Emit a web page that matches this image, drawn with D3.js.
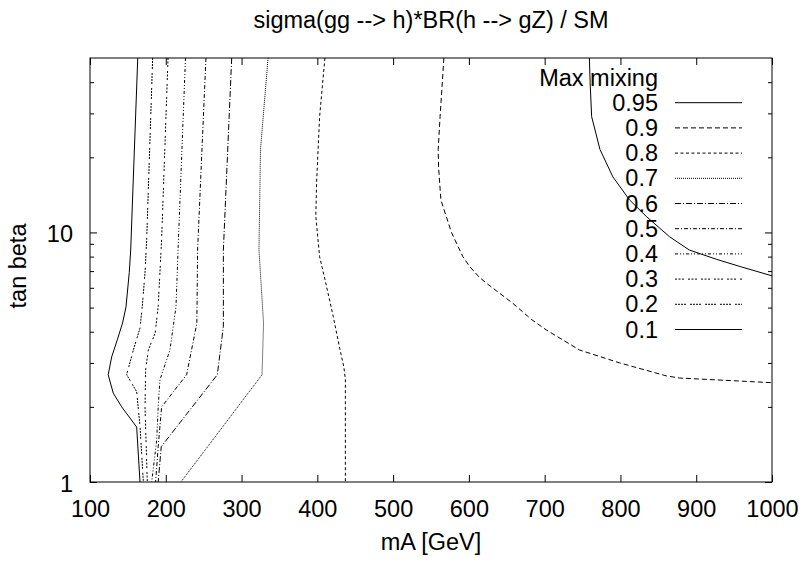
<!DOCTYPE html>
<html>
<head>
<meta charset="utf-8">
<script src="https://cdn.jsdelivr.net/npm/d3@7"></script>
<style>
  html, body { margin: 0; padding: 0; background: #fff; }
  svg { display: block; }
  text { font-family: "Liberation Sans", Arial, sans-serif; fill: #000; }
</style>
</head>
<body>
<svg id="chart" width="804" height="564"></svg>
<script>
// ---------- data ----------
const titleText = "sigma(gg --> h)*BR(h --> gZ) / SM";
const xLabelText = "mA [GeV]";
const yLabelText = "tan beta";
const legendTitle = "Max mixing";

const xTicks = [100, 200, 300, 400, 500, 600, 700, 800, 900, 1000];
const yMajorTicks = [1, 10];
const yMinorTicks = [2, 3, 4, 5, 6, 7, 8, 9, 20, 30, 40];

const levels = ["0.95", "0.9", "0.8", "0.7", "0.6", "0.5", "0.4", "0.3", "0.2", "0.1"];
const dashes = ["", "5,3", "3,2.5", "1,1", "6,2,1,2", "4,2,1,2", "3,2,1,2,1,2", "2,1.5,2,1.5,2,4", "2,1,2,1,2,1,2,4", ""];

const mA_095 = [759, 760, 762, 773, 790, 812, 834, 865, 891, 927, 958, 1000];
const tb_095 = [50, 39.8, 29.1, 21.5, 16.7, 13.5, 11.6, 9.6, 8.5, 7.8, 7.3, 6.7];

const mA_090 = [567, 562, 559.5, 560, 563, 577, 592, 601, 614, 628, 658, 683, 702, 746, 799, 861, 878, 1000];
const tb_090 = [50, 29.1, 21.5, 18.3, 13.5, 10, 8, 7.3, 6.6, 6.1, 5.2, 4.47, 4.07, 3.38, 3.0, 2.66, 2.61, 2.5];

const mA_080 = [410, 403, 399, 398, 403, 411, 421, 430, 435, 437, 437];
const tb_080 = [50, 29.1, 15.8, 11.6, 8, 6.3, 4.6, 3.38, 2.89, 2.57, 1];

const mA_070 = [335, 325, 323, 329, 327, 220];
const tb_070 = [50, 21.5, 8.5, 4.33, 2.69, 1];

const mA_060 = [287, 276, 276, 268, 194, 190];
const tb_060 = [50, 8.5, 4.2, 2.69, 1.385, 1];

const mA_050 = [253, 242, 241, 227.5, 194.5, 190, 186.6];
const tb_050 = [50, 8.5, 4.33, 2.69, 2.0, 1.385, 1];

const mA_040 = [226, 216.5, 213.5, 205.5, 192.3, 190, 188, 181.4];
const tb_040 = [50, 9, 5.05, 3.38, 2.57, 2.0, 1.47, 1];

const mA_030 = [203, 194.5, 190, 186, 177, 173.4, 172.6, 175.6];
const tb_030 = [50, 9.35, 5.05, 3.95, 3.38, 2.81, 2.0, 1];

const mA_020 = [182.7, 174.8, 172.6, 169, 166, 157.2, 148.4, 161.6, 166, 170.4];
const tb_020 = [50, 9.35, 6.88, 5.05, 4.14, 3.38, 2.69, 2.3, 1.67, 1];

const mA_010 = [163, 153.7, 151.8, 147.5, 143, 136, 128.6, 124, 130.7, 141.8, 161.6, 166];
const tb_010 = [50, 8.5, 6.9, 5.03, 4.34, 3.71, 3.17, 2.69, 2.27, 2.0, 1.66, 1];

const curvesMA = [mA_095, mA_090, mA_080, mA_070, mA_060, mA_050, mA_040, mA_030, mA_020, mA_010];
const curvesTB = [tb_095, tb_090, tb_080, tb_070, tb_060, tb_050, tb_040, tb_030, tb_020, tb_010];

// ---------- layout ----------
const L = 90, R = 772, T = 58, B = 482;
const FS = 23.5;

const svg = d3.select("#chart");
const x = d3.scaleLinear().domain([100, 1000]).range([L, R]);
const y = d3.scaleLog().domain([1, 50]).range([B, T]);

svg.append("defs").append("clipPath").attr("id", "clip")
  .append("rect").attr("x", L).attr("y", T).attr("width", R - L).attr("height", B - T);

// axes (ticks inward)
function styleAxis(g) {
  g.select(".domain").remove();
  g.selectAll(".tick line").attr("stroke", "#000").attr("stroke-width", 1);
}
svg.append("g").attr("transform", `translate(0,${B})`)
  .call(d3.axisBottom(x).tickValues(xTicks).tickSize(-7).tickSizeOuter(0).tickFormat(d3.format("d")))
  .call(styleAxis)
  .call(g => g.selectAll("text").attr("y", 0).attr("dy", null).attr("transform", "translate(0,35)")
    .attr("font-size", FS).attr("font-family", "Liberation Sans, Arial, sans-serif").attr("fill", "#000"));
svg.append("g").attr("transform", `translate(0,${T})`)
  .call(d3.axisTop(x).tickValues(xTicks).tickSize(-7).tickSizeOuter(0).tickFormat(""))
  .call(styleAxis);

svg.append("g").attr("transform", `translate(${L},0)`)
  .call(d3.axisLeft(y).tickValues(yMajorTicks).tickSize(-7).tickSizeOuter(0).tickFormat(d3.format("d")))
  .call(styleAxis)
  .call(g => g.selectAll("text").attr("x", -17).attr("dy", null).attr("y", 9)
    .attr("font-size", FS).attr("font-family", "Liberation Sans, Arial, sans-serif").attr("fill", "#000"));
svg.append("g").attr("transform", `translate(${L},0)`)
  .call(d3.axisLeft(y).tickValues(yMinorTicks).tickSize(-4).tickSizeOuter(0).tickFormat(""))
  .call(styleAxis);
svg.append("g").attr("transform", `translate(${R},0)`)
  .call(d3.axisRight(y).tickValues(yMajorTicks).tickSize(-7).tickSizeOuter(0).tickFormat(""))
  .call(styleAxis);
svg.append("g").attr("transform", `translate(${R},0)`)
  .call(d3.axisRight(y).tickValues(yMinorTicks).tickSize(-4).tickSizeOuter(0).tickFormat(""))
  .call(styleAxis);

// frame
svg.append("rect").attr("x", L).attr("y", T).attr("width", R - L).attr("height", B - T)
  .attr("fill", "none").attr("stroke", "#000").attr("stroke-width", 1);

// curves
const line = d3.line().x(d => x(d[0])).y(d => y(d[1]));
const plot = svg.append("g").attr("clip-path", "url(#clip)");
levels.forEach((lv, i) => {
  const pts = curvesMA[i].map((m, j) => [m, curvesTB[i][j]]);
  plot.append("path").datum(pts)
    .attr("d", line)
    .attr("fill", "none")
    .attr("stroke", "#000")
    .attr("stroke-width", 1)
    .attr("stroke-dasharray", dashes[i] || null);
});

// legend
const legX = 658, legLine0 = 675, legLine1 = 742, legY0 = 110.7, legDy = 25.2;
svg.append("text").attr("x", legX).attr("y", legY0 - legDy).attr("text-anchor", "end")
  .attr("font-size", FS).text(legendTitle);
levels.forEach((lv, i) => {
  const yy = legY0 + i * legDy;
  svg.append("text").attr("x", legX).attr("y", yy).attr("text-anchor", "end")
    .attr("font-size", FS).text(lv);
  svg.append("line").attr("x1", legLine0).attr("x2", legLine1)
    .attr("y1", yy - 8).attr("y2", yy - 8)
    .attr("stroke", "#000").attr("stroke-width", 1)
    .attr("stroke-dasharray", dashes[i] || null);
});

// titles
svg.append("text").attr("x", (L + R) / 2).attr("y", 28).attr("text-anchor", "middle")
  .attr("font-size", FS).text(titleText);
svg.append("text").attr("x", (L + R) / 2).attr("y", 550).attr("text-anchor", "middle")
  .attr("font-size", FS).text(xLabelText);
svg.append("text").attr("transform", `translate(26,${(T + B) / 2 - 4}) rotate(-90)`)
  .attr("text-anchor", "middle").attr("font-size", FS).text(yLabelText);
</script>
</body>
</html>
